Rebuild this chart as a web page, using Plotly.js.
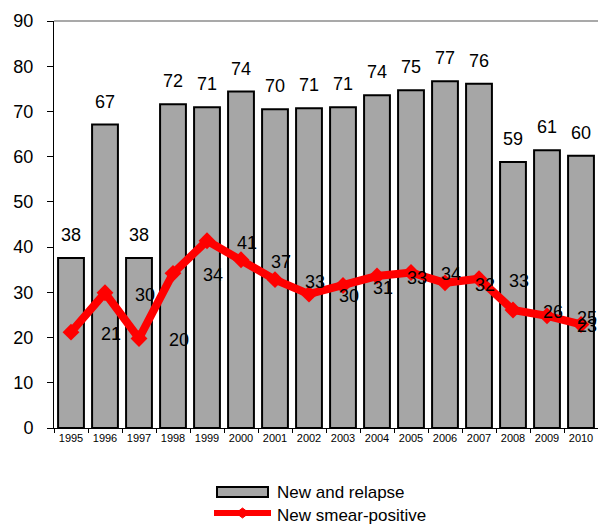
<!DOCTYPE html>
<html>
<head>
<meta charset="utf-8">
<script src="https://cdn.plot.ly/plotly-3.0.1.min.js"></script>
<style>html,body{margin:0;padding:0;background:#fff;}#chart{width:598px;height:526px;}</style>
</head>
<body>
<div id="chart"></div>
<script>
const years = ["1995","1996","1997","1998","1999","2000","2001","2002","2003","2004","2005","2006","2007","2008","2009","2010"];
const relapseValues = [37.6, 67.1, 37.6, 71.6, 70.9, 74.4, 70.5, 70.7, 70.9, 73.6, 74.7, 76.7, 76.1, 58.8, 61.4, 60.2];
const relapseLabels = ["38","67","38","72","71","74","70","71","71","74","75","77","76","59","61","60"];
const smearValues = [21.2, 29.9, 19.8, 34.2, 41.4, 37.2, 32.8, 29.6, 31.5, 33.6, 34.4, 32.1, 33.0, 26.1, 24.8, 22.9];
const smearLabels = ["21","30","20","34","41","37","33","30","31","33","34","32","33","26","25","23"];
const seriesNames = ["New and relapse", "New smear-positive"];

const FONT = "Liberation Sans, Arial, sans-serif";
const L = 54, R = 598, T = 21, B = 428;
const px = x => (x - L) / (R - L);
const py = y => (B - y) / (B - T);

const traces = [
  {
    type: "bar", x: years, y: relapseValues, name: seriesNames[0],
    marker: {color: "#a6a6a6", line: {color: "#000", width: 2}},
    hoverinfo: "none"
  },
  {
    type: "scatter", mode: "lines+markers", x: years, y: smearValues, name: seriesNames[1],
    line: {color: "#ff0000", width: 8},
    marker: {symbol: "diamond", size: 13, color: "#ff0000"},
    cliponaxis: false, hoverinfo: "none"
  }
];

const annotations = [];
relapseValues.forEach((v, i) => {
  annotations.push({x: i, y: v, xref: "x", yref: "y", text: relapseLabels[i], showarrow: false,
    yanchor: "middle", yshift: 23, font: {family: FONT, size: 18, color: "#000"}});
});
smearValues.forEach((v, i) => {
  annotations.push({x: Math.min(i + 1, years.length - 1), y: v, xref: "x", yref: "y", text: smearLabels[i], showarrow: false,
    yanchor: "middle", xshift: 6, yshift: -2, font: {family: FONT, size: 18, color: "#000"}});
});
// legend text
annotations.push({x: px(275), y: py(492), xref: "paper", yref: "paper", text: seriesNames[0], showarrow: false,
  xanchor: "left", yanchor: "middle", font: {family: FONT, size: 17, color: "#000"}});
annotations.push({x: px(275), y: py(515), xref: "paper", yref: "paper", text: seriesNames[1], showarrow: false,
  xanchor: "left", yanchor: "middle", font: {family: FONT, size: 17, color: "#000"}});

const shapes = [
  {type: "line", xref: "paper", yref: "paper", x0: 0, x1: 1, y0: 1, y1: 1, line: {color: "#8c8c8c", width: 1.5}},
  {type: "rect", xref: "paper", yref: "paper", x0: px(217), x1: px(268), y0: py(487), y1: py(497),
    fillcolor: "#a6a6a6", line: {color: "#000", width: 2}},
  {type: "line", xref: "paper", yref: "paper", x0: px(214), x1: px(271), y0: py(513), y1: py(513),
    line: {color: "#ff0000", width: 6}},
  {type: "path", xref: "paper", yref: "paper",
    path: `M ${px(236)} ${py(513)} L ${px(242.5)} ${py(508)} L ${px(249)} ${py(513)} L ${px(242.5)} ${py(518)} Z`,
    fillcolor: "#ff0000", line: {color: "#ff0000", width: 1}}
];

const layout = {
  width: 598, height: 526,
  margin: {l: L, r: 598 - R, t: T, b: 526 - B},
  paper_bgcolor: "#fff", plot_bgcolor: "#fff",
  showlegend: false,
  bargap: 0.24,
  font: {family: FONT, color: "#000"},
  xaxis: {
    type: "category", range: [-0.5, 15.5], tickson: "boundaries",
    showline: true, linecolor: "#000", linewidth: 1,
    ticks: "outside", ticklen: 4, tickcolor: "#000",
    tickfont: {family: FONT, size: 11, color: "#000"},
    showgrid: false, zeroline: false, fixedrange: true
  },
  yaxis: {
    range: [0, 90], dtick: 10, tick0: 0,
    showline: true, linecolor: "#000", linewidth: 1,
    ticks: "outside", ticklen: 6, tickcolor: "#000",
    ticklabelstandoff: 10,
    tickfont: {family: FONT, size: 18, color: "#000"},
    showgrid: false, zeroline: false, fixedrange: true
  },
  annotations: annotations,
  shapes: shapes
};

Plotly.newPlot("chart", traces, layout, {displayModeBar: false, staticPlot: true});
</script>
</body>
</html>
